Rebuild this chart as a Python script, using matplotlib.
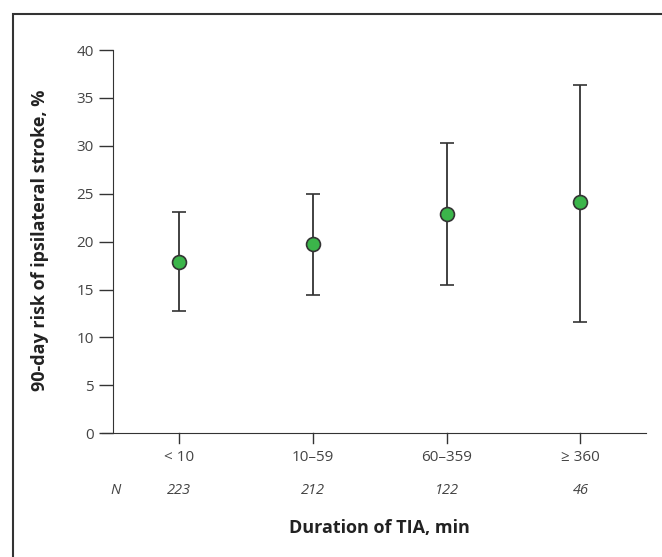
import numpy as np
import matplotlib
matplotlib.use("Agg")
import matplotlib.pyplot as plt
from matplotlib.patches import Rectangle

# data
groups = ["< 10", "10\u201359", "60\u2013359", "\u2265 360"]
n_counts = [223, 212, 122, 46]
risk = [17.9, 19.8, 22.9, 24.1]
ci_low = [12.8, 14.4, 15.5, 11.6]
ci_high = [23.1, 25.0, 30.3, 36.3]

plt.rcParams['font.family'] = ['Open Sans', 'DejaVu Sans']

W, H = 662, 557
fig = plt.figure(figsize=(W / 100, H / 100), dpi=100)
ax = fig.add_axes([113 / W, 1 - 433.3 / H, (646 - 113) / W, (433.3 - 50) / H])

x = np.arange(len(groups))
risk = np.array(risk)
yerr = [risk - np.array(ci_low), np.array(ci_high) - risk]
ax.errorbar(x, risk, yerr=yerr, fmt='o', color='#333333', ecolor='#333333',
            elinewidth=1.3, capsize=5, capthick=1.3,
            markersize=10, markerfacecolor='#3bb54a', markeredgecolor='#333333',
            markeredgewidth=1.2, zorder=3)

ax.set_xlim(-0.496, 3.49)
ax.set_ylim(0, 40)
ax.set_yticks(range(0, 41, 5))
ax.set_xticks(x)
ax.set_xticklabels(groups)
for s in ['top', 'right']:
    ax.spines[s].set_visible(False)
ax.spines['left'].set_color('#333333')
ax.spines['bottom'].set_color('#333333')
ax.spines['bottom'].set_bounds(-0.579, 3.49)
ax.tick_params(axis='y', length=10, width=1, color='#333333', labelcolor='#444444',
               labelsize=11, pad=4)
ax.tick_params(axis='x', direction='in', length=0, labelcolor='#444444',
               labelsize=11, pad=12)
for xi in x:
    ax.plot([xi, xi], [0, -1.05], color='#333333', lw=1, clip_on=False)

# N row
n_y = 1 - 491 / H
ax_to_fig = ax.transData
for xi, n in zip(x, n_counts):
    fx = fig.transFigure.inverted().transform(ax_to_fig.transform((xi, 0)))[0]
    fig.text(fx, n_y, str(n), style='italic', color='#444444', fontsize=10.5,
             ha='center', va='center')
fig.text(116 / W, n_y, 'N', style='italic', color='#444444', fontsize=10.5,
         ha='center', va='center')

fig.text(379 / W, 1 - 528 / H, 'Duration of TIA, min', fontsize=13,
         fontweight='bold', color='#222222', ha='center', va='center')
fig.text(40 / W, 1 - 240 / H, '90-day risk of ipsilateral stroke, %',
         rotation=90, fontsize=13, fontweight='bold', color='#222222',
         ha='center', va='center')

# outer frame
fig.patches.append(Rectangle((13 / W, -0.01), 1.0, 1 - 14 / H + 0.01,
                             transform=fig.transFigure, fill=False,
                             edgecolor='#333333', lw=1.5))

fig.savefig('out.png', dpi=100)
